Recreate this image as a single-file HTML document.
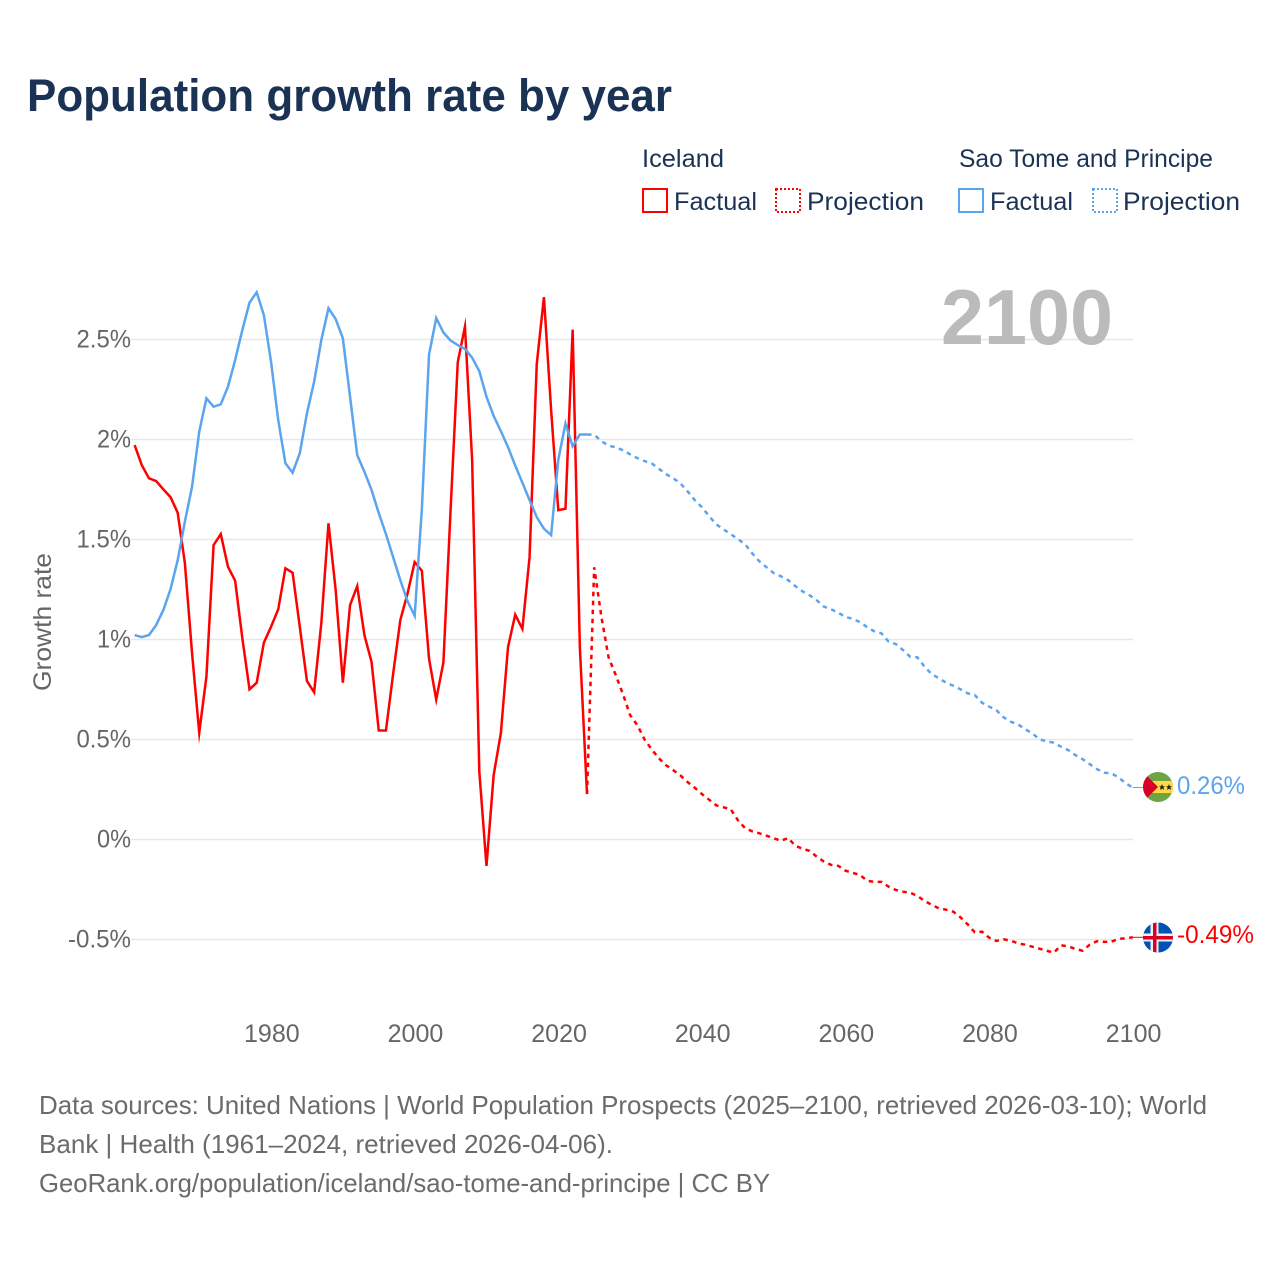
<!DOCTYPE html>
<html lang="en">
<head>
<meta charset="utf-8">
<title>Population growth rate by year</title>
<style>
html,body{margin:0;padding:0;background:#fff;width:1280px;height:1280px;overflow:hidden}
svg{display:block}
text{font-family:"Liberation Sans",sans-serif}
</style>
</head>
<body>
<svg id="chart" xmlns="http://www.w3.org/2000/svg" width="1280" height="1280" viewBox="0 0 1280 1280">
  <defs>
    <clipPath id="clip-stp"><circle cx="1158" cy="787" r="15"/></clipPath>
    <clipPath id="clip-isl"><circle cx="1158" cy="937.5" r="15"/></clipPath>
  </defs>
  <rect x="0" y="0" width="1280" height="1280" fill="#fff"/>
  <text x="27" y="111" font-size="45" font-weight="700" fill="#1a3355" textLength="645" lengthAdjust="spacingAndGlyphs">Population growth rate by year</text>

  <g font-size="25" fill="#1a3355">
    <text x="642" y="167" textLength="82" lengthAdjust="spacingAndGlyphs">Iceland</text>
    <rect x="643" y="189" width="24" height="23" fill="none" stroke="#ff0000" stroke-width="2"/>
    <text x="674" y="210" textLength="83" lengthAdjust="spacingAndGlyphs">Factual</text>
    <rect x="776" y="189" width="24" height="23" fill="none" stroke="#ff0000" stroke-width="2" stroke-dasharray="2 2"/>
    <text x="807" y="210" textLength="117" lengthAdjust="spacingAndGlyphs">Projection</text>
    <text x="959" y="167" textLength="254" lengthAdjust="spacingAndGlyphs">Sao Tome and Principe</text>
    <rect x="959" y="189" width="24" height="23" fill="none" stroke="#5ba4ee" stroke-width="2"/>
    <text x="990" y="210" textLength="83" lengthAdjust="spacingAndGlyphs">Factual</text>
    <rect x="1093" y="189" width="24" height="23" fill="none" stroke="#5ba4ee" stroke-width="2" stroke-dasharray="2 2"/>
    <text x="1123" y="210" textLength="117" lengthAdjust="spacingAndGlyphs">Projection</text>
  </g>

  <g id="grid"></g>
  <g id="y-ticks"></g>
  <g id="x-ticks"></g>
  <text transform="translate(51,622) rotate(-90)" text-anchor="middle" font-size="25" fill="#666" textLength="138" lengthAdjust="spacingAndGlyphs">Growth rate</text>
  <text x="941" y="344" font-size="78" font-weight="700" fill="#bbbbbb" textLength="172" lengthAdjust="spacingAndGlyphs">2100</text>
  <g id="series"></g>

  <g clip-path="url(#clip-stp)">
    <rect x="1143" y="772" width="30" height="30" fill="#6da544"/>
    <rect x="1143" y="781" width="30" height="12" fill="#ffda44"/>
    <polygon points="1143,772 1143,802 1158,787" fill="#d80027"/>
    <polygon points="1162,784 1162.9,786.2 1165,786.2 1163.4,787.6 1164,790 1162,788.6 1160,790 1160.6,787.6 1159,786.2 1161.1,786.2" fill="#222"/>
    <polygon points="1169,784 1169.9,786.2 1172,786.2 1170.4,787.6 1171,790 1169,788.6 1167,790 1167.6,787.6 1166,786.2 1168.1,786.2" fill="#222"/>
  </g>
  <g clip-path="url(#clip-isl)">
    <rect x="1143" y="922" width="30" height="31" fill="#0052b4"/>
    <rect x="1143" y="933.5" width="30" height="8" fill="#f0f0f0"/>
    <rect x="1150.5" y="922" width="8" height="31" fill="#f0f0f0"/>
    <rect x="1143" y="936" width="30" height="3.5" fill="#d80027"/>
    <rect x="1153" y="922" width="3.5" height="31" fill="#d80027"/>
  </g>
  <text id="label-stp" x="1177" y="794" font-size="25" fill="#5ba4ee" textLength="68" lengthAdjust="spacingAndGlyphs">0.26%</text>
  <text id="label-isl" x="1177" y="943" font-size="25" fill="#ff0000" textLength="77" lengthAdjust="spacingAndGlyphs">-0.49%</text>

  <g font-size="26" fill="#6b6b6b">
    <text x="39" y="1114" textLength="1168" lengthAdjust="spacingAndGlyphs">Data sources: United Nations | World Population Prospects (2025–2100, retrieved 2026-03-10); World</text>
    <text x="39" y="1153" textLength="574" lengthAdjust="spacingAndGlyphs">Bank | Health (1961–2024, retrieved 2026-04-06).</text>
    <text x="39" y="1192" textLength="731" lengthAdjust="spacingAndGlyphs">GeoRank.org/population/iceland/sao-tome-and-principe | CC BY</text>
  </g>
</svg>
<script>
const factualStartYear = 1961;
const projectionStartYear = 2024;
const yTickValues = [2.5, 2, 1.5, 1, 0.5, 0, -0.5];
const yTickLabels = ["2.5%", "2%", "1.5%", "1%", "0.5%", "0%", "-0.5%"];
const xTickValues = [1980, 2000, 2020, 2040, 2060, 2080, 2100];
const xTickLabels = ["1980", "2000", "2020", "2040", "2060", "2080", "2100"];

const icelandFactual = [1.972,1.872,1.806,1.792,1.751,1.712,1.634,1.382,0.932,0.534,0.814,1.472,1.527,1.364,1.294,1.007,0.751,0.784,0.984,1.064,1.151,1.356,1.334,1.064,0.792,0.736,1.081,1.581,1.247,0.784,1.172,1.267,1.022,0.887,0.545,0.545,0.828,1.097,1.229,1.387,1.344,0.904,0.70,0.885,1.647,2.387,2.564,1.899,0.340,-0.132,0.322,0.532,0.962,1.124,1.053,1.412,2.377,2.712,2.148,1.647,1.654,2.549,0.962,0.227];

const saoTomeFactual = [1.022,1.012,1.022,1.072,1.147,1.251,1.397,1.589,1.764,2.039,2.206,2.164,2.176,2.264,2.397,2.547,2.684,2.736,2.622,2.389,2.097,1.881,1.834,1.931,2.131,2.289,2.497,2.656,2.602,2.506,2.214,1.922,1.839,1.747,1.632,1.527,1.412,1.297,1.192,1.118,1.652,2.424,2.607,2.535,2.495,2.472,2.453,2.409,2.342,2.214,2.118,2.042,1.962,1.87,1.784,1.697,1.612,1.554,1.522,1.899,2.08,1.966,2.025,2.025];

const icelandProjection = [0.227,1.361,1.114,0.911,0.822,0.727,0.622,0.572,0.501,0.451,0.406,0.371,0.347,0.321,0.287,0.259,0.227,0.199,0.171,0.161,0.152,0.097,0.057,0.041,0.031,0.019,0.006,-0.006,0.007,-0.031,-0.046,-0.057,-0.086,-0.111,-0.127,-0.132,-0.156,-0.167,-0.177,-0.206,-0.212,-0.212,-0.236,-0.252,-0.261,-0.266,-0.282,-0.307,-0.327,-0.344,-0.351,-0.361,-0.389,-0.424,-0.464,-0.461,-0.491,-0.507,-0.499,-0.506,-0.519,-0.526,-0.536,-0.546,-0.556,-0.566,-0.529,-0.534,-0.547,-0.556,-0.526,-0.509,-0.512,-0.511,-0.497,-0.494,-0.489];

const saoTomeProjection = [2.025,2.024,1.992,1.969,1.961,1.946,1.926,1.907,1.892,1.881,1.854,1.827,1.806,1.781,1.741,1.697,1.661,1.617,1.576,1.551,1.527,1.502,1.477,1.431,1.391,1.361,1.332,1.316,1.297,1.267,1.241,1.221,1.196,1.164,1.151,1.134,1.112,1.104,1.087,1.062,1.041,1.031,0.989,0.977,0.947,0.914,0.911,0.864,0.827,0.806,0.784,0.769,0.751,0.731,0.722,0.684,0.664,0.647,0.611,0.589,0.576,0.552,0.531,0.501,0.491,0.484,0.464,0.447,0.422,0.402,0.377,0.352,0.334,0.331,0.311,0.281,0.26];

const NS = "http://www.w3.org/2000/svg";
const xScale = function (year) { return 134.6 + (year - 1961) * (1132.8 - 134.6) / (2100 - 1961); };
const yScale = function (value) { return 839.5 - value * 200; };
const labelWidth = function (text) {
  let width = 0;
  for (const ch of text) {
    width += ch === "%" ? 20 : ch === "." ? 6.5 : ch === "-" ? 8.5 : 14;
  }
  return width;
};

const gridLayer = document.getElementById("grid");
const yTickLayer = document.getElementById("y-ticks");
const xTickLayer = document.getElementById("x-ticks");
const seriesLayer = document.getElementById("series");

yTickValues.forEach(function (value, i) {
  const line = document.createElementNS(NS, "line");
  
  
  line.setAttribute("x1", 131);
  line.setAttribute("x2", 1133);
  line.setAttribute("y1", yScale(value));
  line.setAttribute("y2", yScale(value));
  line.setAttribute("stroke", "#e8e8e8");
  line.setAttribute("stroke-width", "1.5");
  gridLayer.appendChild(line);

  const label = document.createElementNS(NS, "text");
  
  
  label.setAttribute("x", 131);
  label.setAttribute("y", yScale(value) + 8);
  label.setAttribute("text-anchor", "end");
  label.setAttribute("font-size", "25");
  label.setAttribute("fill", "#666");
  label.setAttribute("textLength", labelWidth(yTickLabels[i]));
  label.setAttribute("lengthAdjust", "spacingAndGlyphs");
  label.textContent = yTickLabels[i];
  yTickLayer.appendChild(label);
});

xTickValues.forEach(function (year, i) {
  const label = document.createElementNS(NS, "text");
  
  
  label.setAttribute("x", xScale(year) + 0.8);
  label.setAttribute("y", 1042);
  label.setAttribute("text-anchor", "middle");
  label.setAttribute("font-size", "25");
  label.setAttribute("fill", "#666");
  label.textContent = xTickLabels[i];
  xTickLayer.appendChild(label);
});

function pathFrom(values, startYear) {
  return values.map(function (value, i) {
    return (i === 0 ? "M" : "L") + xScale(startYear + i).toFixed(2) + " " + yScale(value).toFixed(2);
  }).join(" ");
}

function styleLine(path, color, dashed) {
  path.setAttribute("fill", "none");
  path.setAttribute("stroke", color);
  path.setAttribute("stroke-width", "2.5");
  path.setAttribute("stroke-linejoin", "miter");
  path.setAttribute("stroke-miterlimit", "10");
  if (dashed) {
    path.setAttribute("stroke-dasharray", "4.5 4.5");
  }
}

const icelandFactualLine = document.createElementNS(NS, "path");


icelandFactualLine.setAttribute("d", pathFrom(icelandFactual, factualStartYear));
styleLine(icelandFactualLine, "#ff0000", false);
seriesLayer.appendChild(icelandFactualLine);

const icelandProjectionLine = document.createElementNS(NS, "path");


icelandProjectionLine.setAttribute("d", pathFrom(icelandProjection, projectionStartYear));
styleLine(icelandProjectionLine, "#ff0000", true);
seriesLayer.appendChild(icelandProjectionLine);

const saoTomeFactualLine = document.createElementNS(NS, "path");


saoTomeFactualLine.setAttribute("d", pathFrom(saoTomeFactual, factualStartYear));
styleLine(saoTomeFactualLine, "#5ba4ee", false);
seriesLayer.appendChild(saoTomeFactualLine);

const saoTomeProjectionLine = document.createElementNS(NS, "path");


saoTomeProjectionLine.setAttribute("d", pathFrom(saoTomeProjection, projectionStartYear));
styleLine(saoTomeProjectionLine, "#5ba4ee", true);
seriesLayer.appendChild(saoTomeProjectionLine);

const icelandLast = icelandProjection[icelandProjection.length - 1];
const saoTomeLast = saoTomeProjection[saoTomeProjection.length - 1];

const icelandConnector = document.createElementNS(NS, "line");


icelandConnector.setAttribute("x1", xScale(2100));
icelandConnector.setAttribute("x2", 1144);
icelandConnector.setAttribute("y1", yScale(icelandLast));
icelandConnector.setAttribute("y2", yScale(icelandLast));
icelandConnector.setAttribute("stroke", "#ff0000");
icelandConnector.setAttribute("stroke-width", "1");
seriesLayer.appendChild(icelandConnector);

const saoTomeConnector = document.createElementNS(NS, "line");


saoTomeConnector.setAttribute("x1", xScale(2100));
saoTomeConnector.setAttribute("x2", 1144);
saoTomeConnector.setAttribute("y1", yScale(saoTomeLast));
saoTomeConnector.setAttribute("y2", yScale(saoTomeLast));
saoTomeConnector.setAttribute("stroke", "#5ba4ee");
saoTomeConnector.setAttribute("stroke-width", "1");
seriesLayer.appendChild(saoTomeConnector);
</script>
</body>
</html>
